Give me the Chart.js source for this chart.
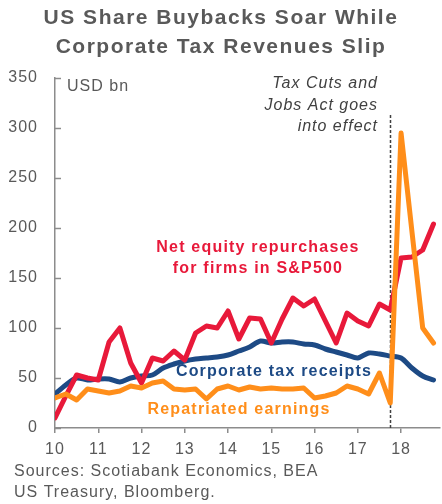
<!DOCTYPE html>
<html>
<head>
<meta charset="utf-8">
<script src="https://cdn.jsdelivr.net/npm/chart.js@4.4.1/dist/chart.umd.min.js"></script>
<style>
  html, body { margin: 0; padding: 0; background: #ffffff; }
  #wrap { width: 442px; height: 504px; position: relative; }
</style>
</head>
<body>
<div id="wrap"><canvas id="c" width="442" height="504"></canvas></div>
<script>
// ---- data (quarterly) ----
const quarters = [10, 10.25, 10.5, 10.75, 11, 11.25, 11.5, 11.75, 12, 12.25, 12.5, 12.75,
                  13, 13.25, 13.5, 13.75, 14, 14.25, 14.5, 14.75, 15, 15.25, 15.5, 15.75,
                  16, 16.25, 16.5, 16.75, 17, 17.25, 17.5, 17.75, 18, 18.25, 18.5, 18.75];
const buybacks = [10, 32, 53, 50, 48, 86, 100, 65, 45, 70, 67, 77,
                  68, 95, 102, 100, 117, 89, 110, 109, 85, 109, 130, 122,
                  129, 107, 85, 115, 107, 102, 124, 118, 170, 171, 178, 204];
const corpTax = [34, 43, 50, 48, 49, 49, 46, 50, 52, 53, 60, 64,
                 67, 69, 70, 71, 73, 77, 81, 87, 85, 86, 86, 84,
                 83, 79, 76, 73, 70, 75, 74, 72, 70, 60, 52, 48];
const repatriated = [30, 34, 28, 39, 37, 35, 37, 42, 40, 45, 47, 39,
                     38, 39, 29, 39, 42, 38, 41, 39, 40, 39, 39, 40,
                     30, 32, 35, 42, 39, 34, 55, 25, 295, 197, 100, 85];
const yearTicks = [10, 11, 12, 13, 14, 15, 16, 17, 18];
const yearLabels = ['10', '11', '12', '13', '14', '15', '16', '17', '18'];
const yTicks = [0, 50, 100, 150, 200, 250, 300, 350];
const taxActDate = 17.75;

const RED = '#E8193A', BLUE = '#1D4A85', ORANGE = '#FF8E1A', GREY = '#595959', AXIS = '#8C8C8C';
const FAM = "'Liberation Sans', Arial, sans-serif";

function pts(ys) { return ys.map((v, i) => ({ x: quarters[i], y: v })); }

function txt(ctx, s, x, y, font, color, align, spacing) {
  ctx.save();
  ctx.font = font; ctx.fillStyle = color; ctx.textAlign = align; ctx.textBaseline = 'middle';
  ctx.letterSpacing = spacing || '0px';
  ctx.fillText(s, x, y);
  ctx.restore();
}

const decor = {
  id: 'decor',
  beforeDraw(chart) { chart.ctx.letterSpacing = '1px'; },
  beforeDatasetsDraw(chart) {
    const ctx = chart.ctx, xs = chart.scales.x, ys = chart.scales.y;
    // inward y ticks
    ctx.save();
    ctx.strokeStyle = AXIS; ctx.lineWidth = 1.5;
    yTicks.forEach(v => {
      const py = Math.round(ys.getPixelForValue(v)) + 0.5;
      ctx.beginPath(); ctx.moveTo(xs.left, py); ctx.lineTo(xs.left + 6, py); ctx.stroke();
    });
    // dashed event line
    const px = Math.round(xs.getPixelForValue(taxActDate)) + 0.5;
    ctx.strokeStyle = '#404040'; ctx.lineWidth = 1.5; ctx.setLineDash([3, 2]);
    ctx.beginPath(); ctx.moveTo(px, 115); ctx.lineTo(px, ys.bottom); ctx.stroke();
    ctx.restore();
  },
  afterDraw(chart) {
    const ctx = chart.ctx;
    const tf = "bold 21px " + FAM;
    txt(ctx, 'US Share Buybacks Soar While', 221, 18, tf, GREY, 'center', '1.5px');
    txt(ctx, 'Corporate Tax Revenues Slip', 221, 47, tf, GREY, 'center', '1.5px');
    txt(ctx, 'USD bn', 67, 87, "16px " + FAM, GREY, 'left', '1px');
    const it = "italic 16px " + FAM;
    txt(ctx, 'Tax Cuts and', 378, 84, it, '#404040', 'right', '1px');
    txt(ctx, 'Jobs Act goes', 378, 106, it, '#404040', 'right', '1px');
    txt(ctx, 'into effect', 378, 127, it, '#404040', 'right', '1px');
    const bf = "bold 16px " + FAM;
    txt(ctx, 'Net equity repurchases', 258, 248, bf, RED, 'center', '1.2px');
    txt(ctx, 'for firms in S&P500', 258, 269, bf, RED, 'center', '1.2px');
    txt(ctx, 'Corporate tax receipts', 274, 372, bf, BLUE, 'center', '1.2px');
    txt(ctx, 'Repatriated earnings', 239, 410, bf, ORANGE, 'center', '1.2px');
    const sf = "16px " + FAM;
    txt(ctx, 'Sources: Scotiabank Economics, BEA', 14, 472, sf, GREY, 'left', '1px');
    txt(ctx, 'US Treasury, Bloomberg.', 14, 493, sf, GREY, 'left', '1px');
  }
};

const lineStyle = { borderWidth: 5, pointRadius: 0, pointHoverRadius: 0, fill: false,
                    borderCapStyle: 'round', borderJoinStyle: 'round' };

new Chart(document.getElementById('c'), {
  type: 'line',
  data: {
    datasets: [
      Object.assign({ label: 'Repatriated earnings', data: pts(repatriated), borderColor: ORANGE, tension: 0, order: 0 }, lineStyle),
      Object.assign({ label: 'Net equity repurchases for firms in S&P500', data: pts(buybacks), borderColor: RED, tension: 0, order: 1 }, lineStyle),
      Object.assign({ label: 'Corporate tax receipts', data: pts(corpTax), borderColor: BLUE, tension: 0.3, order: 2 }, lineStyle)
    ]
  },
  options: {
    responsive: false,
    animation: false,
    devicePixelRatio: 1,
    layout: { padding: { top: 78, left: 0, right: 2, bottom: 46 } },
    plugins: { legend: { display: false }, title: { display: false }, tooltip: { enabled: false } },
    scales: {
      x: {
        type: 'linear', min: 10, max: 18.9,
        afterFit(s) { s.height = 30; },
        afterBuildTicks(s) { s.ticks = yearTicks.map(v => ({ value: v })); },
        ticks: {
          color: GREY, padding: 7, maxRotation: 0, autoSkip: false,
          font: { family: FAM, size: 16 },
          callback(v) { const i = yearTicks.indexOf(v); return i >= 0 ? yearLabels[i] : ''; }
        },
        grid: { drawOnChartArea: false, drawTicks: true, tickLength: 5, color: AXIS, lineWidth: 1.5 },
        border: { display: true, color: AXIS, width: 1.5 }
      },
      y: {
        min: 0, max: 350,
        afterFit(s) { s.width = 55; },
        afterBuildTicks(s) { s.ticks = yTicks.map(v => ({ value: v })); },
        ticks: { color: GREY, padding: 17, font: { family: FAM, size: 16 } },
        grid: { drawOnChartArea: false, drawTicks: false },
        border: { display: true, color: AXIS, width: 1.5 }
      }
    }
  },
  plugins: [decor]
});
</script>
</body>
</html>
